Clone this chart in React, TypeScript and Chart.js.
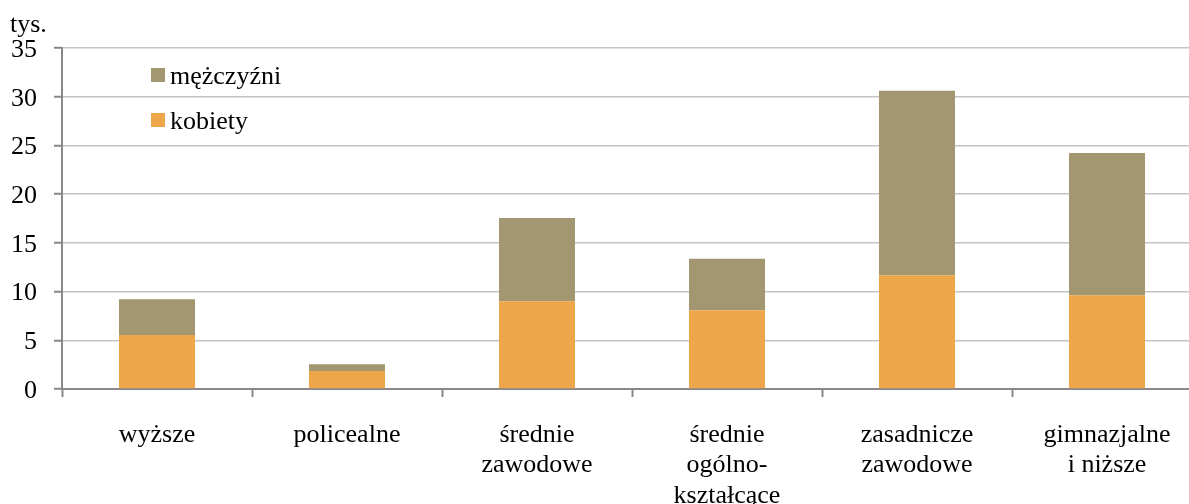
import React, { useEffect, useRef } from "react";
import { Chart, registerables } from "chart.js";

Chart.register(...registerables);

const categories: string[][] = [
  ["wyższe"],
  ["policealne"],
  ["średnie", "zawodowe"],
  ["średnie", "ogólno-", "kształcące"],
  ["zasadnicze", "zawodowe"],
  ["gimnazjalne", "i niższe"],
];
const kobiety: number[] = [5.55, 1.85, 9.01, 8.09, 11.68, 9.63];
const mezczyzni: number[] = [3.67, 0.69, 8.53, 5.27, 18.92, 14.59];
const yTicks: number[] = [0, 5, 10, 15, 20, 25, 30, 35];
const unitLabel = "tys.";

const FONT = "'Liberation Serif', 'Times New Roman', serif";
const FS = 26;

export default function App() {
  const ref = useRef<HTMLCanvasElement | null>(null);

  useEffect(() => {
    if (!ref.current) return;
    const overlay = {
      id: "overlay",
      afterDraw(chart: any) {
        const ctx = chart.ctx;
        ctx.save();
        ctx.fillStyle = "#000";
        ctx.font = `${FS}px ${FONT}`;
        ctx.textBaseline = "alphabetic";
        ctx.textAlign = "left";
        ctx.fillText(unitLabel, 10, 32);
        // legend (reverse order)
        const ds = chart.data.datasets.slice().reverse();
        ds.forEach((d: any, i: number) => {
          const y = 68 + i * 45;
          ctx.fillStyle = d.backgroundColor;
          ctx.fillRect(151, y, 14, 14);
          ctx.fillStyle = "#000";
          ctx.fillText(d.label, 170, y + 16);
        });
        ctx.restore();
      },
    };
    const chart = new Chart(ref.current, {
      type: "bar",
      data: {
        labels: categories,
        datasets: [
          {
            label: "kobiety",
            data: kobiety,
            backgroundColor: "#EDA64A",
            borderWidth: 0,
            barPercentage: 0.4,
            categoryPercentage: 1,
          },
          {
            label: "mężczyźni",
            data: mezczyzni,
            backgroundColor: "#A39772",
            borderWidth: 0,
            barPercentage: 0.4,
            categoryPercentage: 1,
          },
        ],
      },
      options: {
        animation: false,
        responsive: true,
        maintainAspectRatio: false,
        layout: { padding: { top: 48, right: 13, left: 0, bottom: 0 } },
        plugins: {
          legend: { display: false },
          tooltip: { enabled: false },
        },
        scales: {
          x: {
            stacked: true,
            offset: true,
            grid: {
              display: true,
              drawOnChartArea: false,
              drawTicks: true,
              tickLength: 8,
              tickColor: "#888888",
              tickWidth: 2,
              offset: true,
            },
            border: { display: true, color: "#888888", width: 2 },
            ticks: {
              color: "#000",
              font: { family: FONT, size: FS, lineHeight: 1.17 },
              padding: 23,
              maxRotation: 0,
              autoSkip: false,
            },
            afterFit(scale: any) {
              scale.height = 115;
            },
          },
          y: {
            stacked: true,
            min: 0,
            max: 35,
            afterBuildTicks(scale: any) {
              scale.ticks = yTicks.map((v) => ({ value: v }));
            },
            grid: {
              color: "#c4c4c4",
              lineWidth: 1.5,
              tickColor: "#888888",
              tickLength: 8,
              tickWidth: 2,
            },
            border: { display: true, color: "#888888", width: 2 },
            ticks: {
              color: "#000",
              font: { family: FONT, size: FS },
              padding: 17,
              labelOffset: 2,
            },
            afterFit(scale: any) {
              scale.width = 62;
            },
          },
        },
      },
      plugins: [overlay],
    });
    return () => chart.destroy();
  }, []);

  return (
    <div
      style={{
        position: "fixed",
        left: 0,
        top: 0,
        width: 1189,
        height: 504,
        overflow: "hidden",
        background: "#fff",
      }}
    >
      <div style={{ position: "absolute", left: 0, top: 0, width: 1215, height: 504 }}>
        <canvas ref={ref} />
      </div>
    </div>
  );
}
